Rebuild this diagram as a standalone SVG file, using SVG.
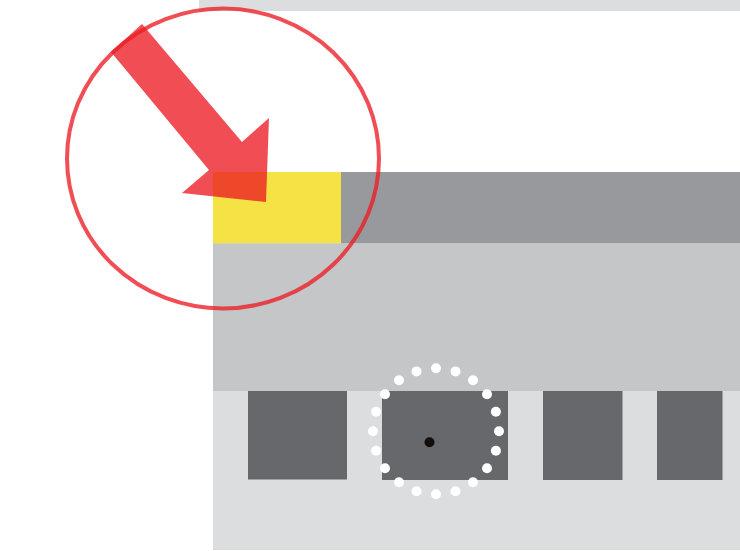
<svg xmlns="http://www.w3.org/2000/svg" width="740" height="551" viewBox="0 0 740 551">
<style>
.light{fill:#dcdddf}
.key{fill:#67686b}
.dot{fill:#ffffff}
.red{fill:#ec1c24;fill-opacity:0.78}
</style>
<rect width="740" height="551" fill="#ffffff"/>
<rect class="light" x="199" y="0" width="541" height="11"/>
<g id="device">
<rect class="light" x="213" y="172" width="527" height="378"/>
<rect x="341" y="172" width="399" height="71.5" fill="#98999c"/>
<rect x="213" y="172" width="128" height="71.5" fill="#f5e346"/>
<rect x="213" y="243.5" width="527" height="147.5" fill="#c5c6c8"/>
</g>
<g id="keys">
<rect class="key" x="248" y="391" width="99" height="88.5"/>
<rect class="key" x="382" y="391" width="126" height="89"/>
<rect class="key" x="543" y="391" width="79.5" height="89"/>
<rect class="key" x="657" y="391" width="65.5" height="89"/>
</g>
<g id="dots">
<circle class="dot" cx="436" cy="368.3" r="5"/>
<circle class="dot" cx="455.5" cy="371.4" r="5"/>
<circle class="dot" cx="473" cy="380.3" r="5"/>
<circle class="dot" cx="487" cy="394.3" r="5"/>
<circle class="dot" cx="495.9" cy="411.8" r="5"/>
<circle class="dot" cx="499" cy="431.3" r="5"/>
<circle class="dot" cx="495.9" cy="450.8" r="5"/>
<circle class="dot" cx="487" cy="468.3" r="5"/>
<circle class="dot" cx="473" cy="482.3" r="5"/>
<circle class="dot" cx="455.5" cy="491.2" r="5"/>
<circle class="dot" cx="436" cy="494.3" r="5"/>
<circle class="dot" cx="416.5" cy="491.2" r="5"/>
<circle class="dot" cx="399" cy="482.3" r="5"/>
<circle class="dot" cx="385" cy="468.3" r="5"/>
<circle class="dot" cx="376.1" cy="450.8" r="5"/>
<circle class="dot" cx="373" cy="431.3" r="5"/>
<circle class="dot" cx="376.1" cy="411.8" r="5"/>
<circle class="dot" cx="385" cy="394.3" r="5"/>
<circle class="dot" cx="399" cy="380.3" r="5"/>
<circle class="dot" cx="416.5" cy="371.4" r="5"/>
<circle cx="429.5" cy="442.3" r="5" fill="#130d0b"/>
</g>
<g id="highlight">
<ellipse cx="223" cy="158.5" rx="156" ry="150" fill="none" stroke="#ec1c24" stroke-opacity="0.78" stroke-width="4"/>
<polygon class="red" points="111,52 142,24 242,142 269,118 266,202 182,193 209,170"/>
</g>
</svg>
